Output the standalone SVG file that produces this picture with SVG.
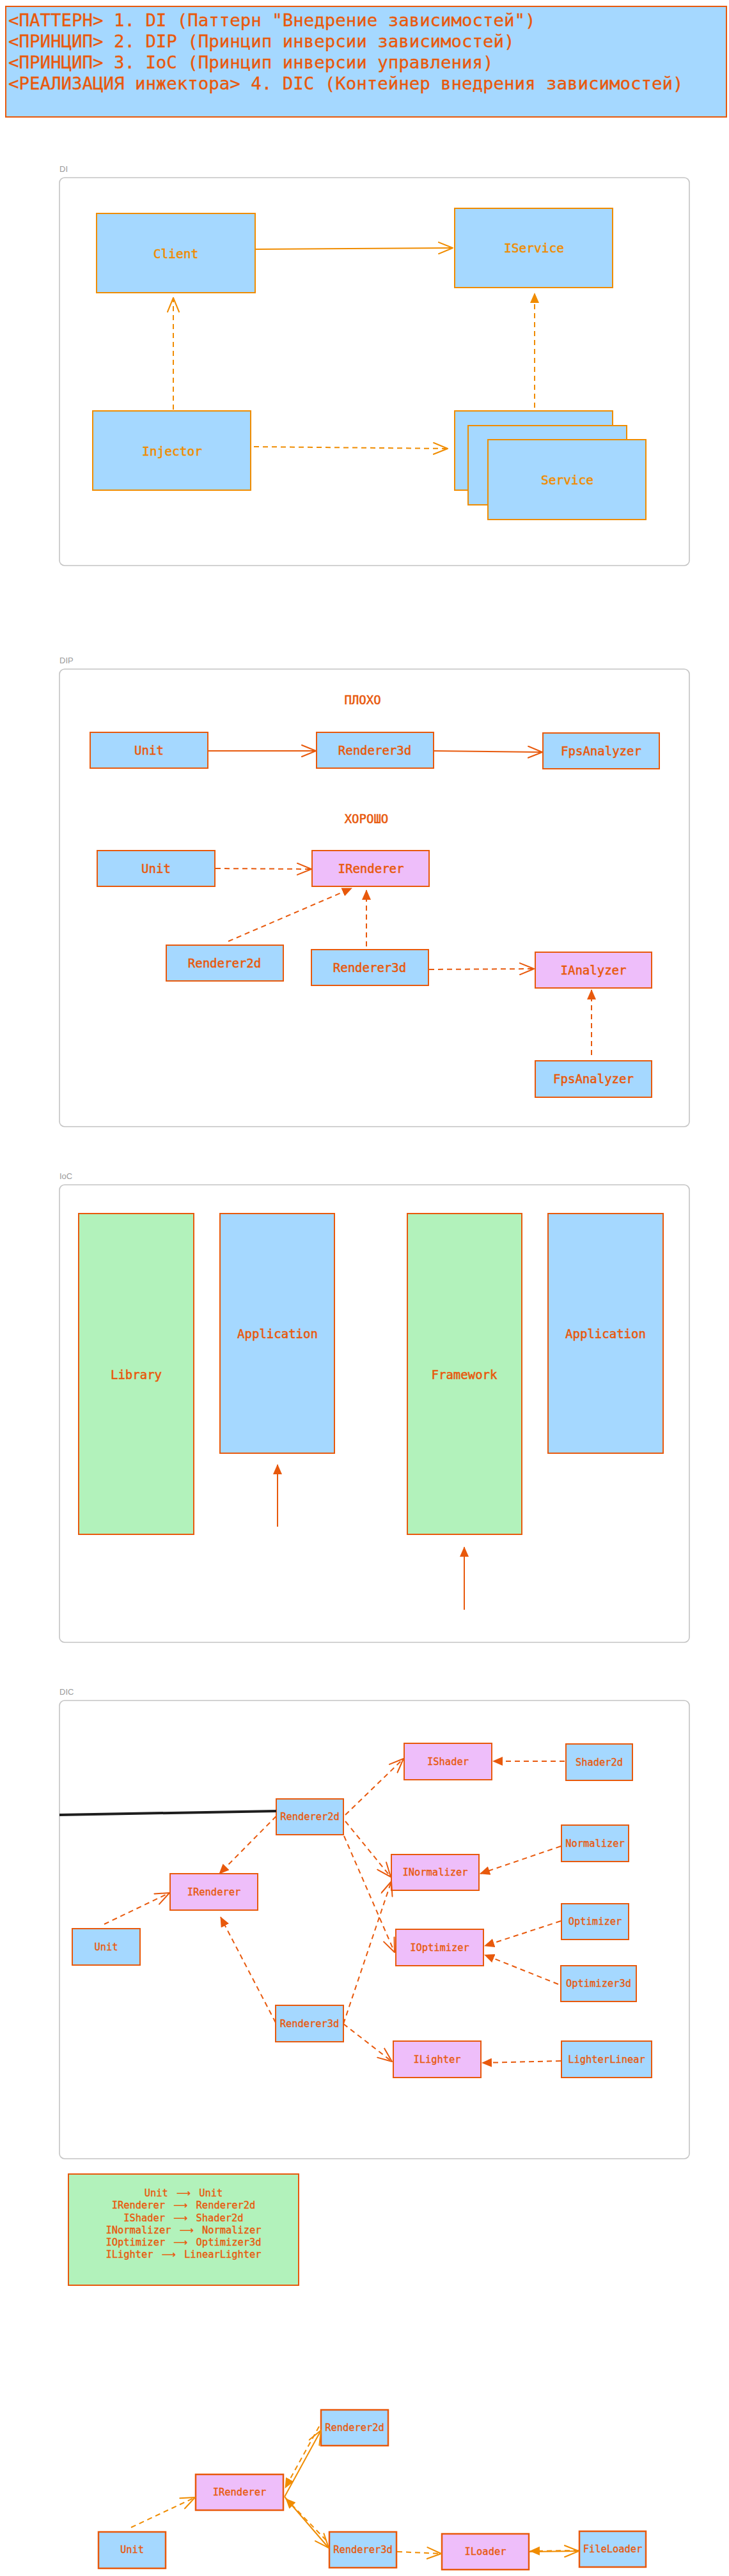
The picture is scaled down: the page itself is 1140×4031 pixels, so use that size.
<svg xmlns="http://www.w3.org/2000/svg" width="1140" height="4031" viewBox="0 0 1140 4031">
<style>
.t{font-family:"DejaVu Sans Mono","Liberation Mono",monospace;text-anchor:middle;dominant-baseline:central}
.to{fill:#f08c00;stroke:#f08c00;stroke-width:0.55;font-size:19.5px}
.tr{fill:#e8590c;stroke:#e8590c;stroke-width:0.55;font-size:19px}
.ts{fill:#e8590c;stroke:#e8590c;stroke-width:0.4;font-size:15.4px}
.box{stroke-width:2}
.bo{stroke:#f08c00}
.br{stroke:#e8590c}
.blue{fill:#a5d8ff}
.pink{fill:#eebefa}
.green{fill:#b2f2bb}
.frame{fill:none;stroke:#c4c4c4;stroke-width:1.6}
.flbl{font-family:"Liberation Sans","DejaVu Sans",sans-serif;font-size:13px;fill:#9a9a9a}
.c{fill:none;stroke-width:2}
.co{stroke:#f08c00}
.cr{stroke:#e8590c}
.d{stroke-dasharray:8 6}
.hdr{font-family:"DejaVu Sans Mono","Liberation Mono",monospace;font-size:27.4px;fill:#e8590c;stroke:#e8590c;stroke-width:0.35}
.lg{font-family:"DejaVu Sans Mono",monospace;font-size:15.4px;fill:#e8590c;stroke:#e8590c;stroke-width:0.4}
.ar{font-family:"DejaVu Sans",sans-serif;text-anchor:middle;stroke-width:0.3}
</style>
<defs>
<marker id="openO" viewBox="0 0 24 20" refX="23" refY="10" markerWidth="24" markerHeight="20" markerUnits="userSpaceOnUse" orient="auto"><path d="M1,1 L23,10 L1,19" fill="none" stroke="#f08c00" stroke-width="2" stroke-linecap="round" stroke-linejoin="round"/></marker>
<marker id="fillO" viewBox="0 0 16 14" refX="15" refY="7" markerWidth="16" markerHeight="14" markerUnits="userSpaceOnUse" orient="auto"><path d="M0,0 L16,7 L0,14 z" fill="#f08c00"/></marker>
<marker id="openR" viewBox="0 0 24 20" refX="23" refY="10" markerWidth="24" markerHeight="20" markerUnits="userSpaceOnUse" orient="auto"><path d="M1,1 L23,10 L1,19" fill="none" stroke="#e8590c" stroke-width="2" stroke-linecap="round" stroke-linejoin="round"/></marker>
<marker id="fillR" viewBox="0 0 16 14" refX="15" refY="7" markerWidth="16" markerHeight="14" markerUnits="userSpaceOnUse" orient="auto"><path d="M0,0 L16,7 L0,14 z" fill="#e8590c"/></marker>
</defs>
<rect width="1140" height="4031" fill="#ffffff"/>

<g id="header">
<rect x="9" y="10" width="1127" height="173" class="blue" stroke="#e8590c" stroke-width="2"/>
<text class="hdr" x="13" y="41">&lt;ПАТТЕРН&gt; 1. DI (Паттерн "Внедрение зависимостей")</text>
<text class="hdr" x="13" y="74">&lt;ПРИНЦИП&gt; 2. DIP (Принцип инверсии зависимостей)</text>
<text class="hdr" x="13" y="107">&lt;ПРИНЦИП&gt; 3. IoC (Принцип инверсии управления)</text>
<text class="hdr" x="13" y="140">&lt;РЕАЛИЗАЦИЯ инжектора&gt; 4. DIC (Контейнер внедрения зависимостей)</text>
</g>

<!-- DI -->
<g id="frame-di"><text class="flbl" x="93" y="269">DI</text><rect class="frame" x="93" y="278" width="985" height="607" rx="8"/></g>
<g id="di-client"><rect class="box bo blue" x="151" y="334" width="248" height="124"/><text class="t to" x="275" y="397">Client</text></g>
<g id="di-iservice"><rect class="box bo blue" x="711" y="326" width="247" height="124"/><text class="t to" x="835" y="388">IService</text></g>
<g id="di-injector"><rect class="box bo blue" x="145" y="643" width="247" height="124"/><text class="t to" x="269" y="706">Injector</text></g>
<g id="di-service">
<rect class="box bo blue" x="711" y="643" width="247" height="124"/>
<rect class="box bo blue" x="732" y="666" width="248" height="124"/>
<rect class="box bo blue" x="763" y="688" width="247" height="125"/>
<text class="t to" x="887" y="751">Service</text></g>

<!-- DIP -->
<g id="frame-dip"><text class="flbl" x="93" y="1038">DIP</text><rect class="frame" x="93" y="1047" width="985" height="716" rx="8"/></g>
<g id="dip-bad-label"><text class="t tr" x="567" y="1095">ПЛОХО</text></g>
<g id="dip-good-label"><text class="t tr" x="573" y="1281">ХОРОШО</text></g>
<g id="dip-unit1"><rect class="box br blue" x="141" y="1146" width="184" height="56"/><text class="t tr" x="233" y="1174">Unit</text></g>
<g id="dip-renderer3d1"><rect class="box br blue" x="495" y="1146" width="183" height="56"/><text class="t tr" x="586" y="1174">Renderer3d</text></g>
<g id="dip-fps1"><rect class="box br blue" x="849" y="1147" width="182" height="56"/><text class="t tr" x="940" y="1175">FpsAnalyzer</text></g>
<g id="dip-unit2"><rect class="box br blue" x="152" y="1331" width="184" height="56"/><text class="t tr" x="244" y="1359">Unit</text></g>
<g id="dip-irenderer"><rect class="box br pink" x="488" y="1331" width="183" height="56"/><text class="t tr" x="580" y="1359">IRenderer</text></g>
<g id="dip-renderer2d"><rect class="box br blue" x="260" y="1479" width="183" height="56"/><text class="t tr" x="351" y="1507">Renderer2d</text></g>
<g id="dip-renderer3d2"><rect class="box br blue" x="487" y="1486" width="183" height="56"/><text class="t tr" x="578" y="1514">Renderer3d</text></g>
<g id="dip-ianalyzer"><rect class="box br pink" x="837" y="1490" width="182" height="56"/><text class="t tr" x="928" y="1518">IAnalyzer</text></g>
<g id="dip-fps2"><rect class="box br blue" x="837" y="1660" width="182" height="57"/><text class="t tr" x="928" y="1688">FpsAnalyzer</text></g>

<!-- IoC -->
<g id="frame-ioc"><text class="flbl" x="93" y="1845">IoC</text><rect class="frame" x="93" y="1854" width="985" height="716" rx="8"/></g>
<g id="ioc-library"><rect class="box br green" x="123" y="1899" width="180" height="502"/><text class="t tr" x="213" y="2151">Library</text></g>
<g id="ioc-app1"><rect class="box br blue" x="344" y="1899" width="179" height="375"/><text class="t tr" x="434" y="2087">Application</text></g>
<g id="ioc-framework"><rect class="box br green" x="637" y="1899" width="179" height="502"/><text class="t tr" x="726" y="2151">Framework</text></g>
<g id="ioc-app2"><rect class="box br blue" x="857" y="1899" width="180" height="375"/><text class="t tr" x="947" y="2087">Application</text></g>

<!-- DIC -->
<g id="frame-dic"><text class="flbl" x="93" y="2652">DIC</text><rect class="frame" x="93" y="2661" width="985" height="717" rx="8"/></g>
<g id="dic-renderer2d"><rect class="box br blue" x="432" y="2815" width="105" height="56"/><text class="t ts" x="484.5" y="2843">Renderer2d</text></g>
<g id="dic-ishader"><rect class="box br pink" x="632" y="2728" width="137" height="57"/><text class="t ts" x="700.5" y="2757">IShader</text></g>
<g id="dic-shader2d"><rect class="box br blue" x="885" y="2729" width="104" height="57"/><text class="t ts" x="937" y="2758">Shader2d</text></g>
<g id="dic-normalizer"><rect class="box br blue" x="878" y="2856" width="105" height="57"/><text class="t ts" x="930.5" y="2885">Normalizer</text></g>
<g id="dic-inormalizer"><rect class="box br pink" x="612" y="2902" width="137" height="56"/><text class="t ts" x="680.5" y="2930">INormalizer</text></g>
<g id="dic-irenderer"><rect class="box br pink" x="266" y="2932" width="137" height="57"/><text class="t ts" x="334.5" y="2961">IRenderer</text></g>
<g id="dic-unit"><rect class="box br blue" x="113" y="3018" width="106" height="57"/><text class="t ts" x="166" y="3047">Unit</text></g>
<g id="dic-optimizer"><rect class="box br blue" x="878" y="2979" width="105" height="56"/><text class="t ts" x="930.5" y="3007">Optimizer</text></g>
<g id="dic-ioptimizer"><rect class="box br pink" x="619" y="3019" width="137" height="57"/><text class="t ts" x="687.5" y="3048">IOptimizer</text></g>
<g id="dic-optimizer3d"><rect class="box br blue" x="877" y="3076" width="118" height="56"/><text class="t ts" x="936" y="3104">Optimizer3d</text></g>
<g id="dic-renderer3d"><rect class="box br blue" x="431" y="3138" width="106" height="57"/><text class="t ts" x="484" y="3167">Renderer3d</text></g>
<g id="dic-ilighter"><rect class="box br pink" x="615" y="3194" width="137" height="57"/><text class="t ts" x="683.5" y="3223">ILighter</text></g>
<g id="dic-lighterlinear"><rect class="box br blue" x="878" y="3194" width="141" height="57"/><text class="t ts" x="948.5" y="3223">LighterLinear</text></g>

<g id="legend">
<rect x="107" y="3402" width="360" height="174" class="green" stroke="#e8590c" stroke-width="2"/>
<text class="lg" y="3437"><tspan x="225.7">Unit</tspan><tspan class="ar" x="287">⟶</tspan><tspan x="311.2">Unit</tspan></text>
<text class="lg" y="3456"><tspan x="174.7">IRenderer</tspan><tspan class="ar" x="282.4">⟶</tspan><tspan x="306.6">Renderer2d</tspan></text>
<text class="lg" y="3476"><tspan x="193.2">IShader</tspan><tspan class="ar" x="282.3">⟶</tspan><tspan x="306.5">Shader2d</tspan></text>
<text class="lg" y="3495"><tspan x="165.5">INormalizer</tspan><tspan class="ar" x="291.7">⟶</tspan><tspan x="315.9">Normalizer</tspan></text>
<text class="lg" y="3514"><tspan x="165.5">IOptimizer</tspan><tspan class="ar" x="282.4">⟶</tspan><tspan x="306.6">Optimizer3d</tspan></text>
<text class="lg" y="3533"><tspan x="165.5">ILighter</tspan><tspan class="ar" x="263.9">⟶</tspan><tspan x="288.1">LinearLighter</tspan></text>
</g>

<!-- bottom -->
<g id="b-renderer2d"><rect class="br blue" stroke-width="2.5" x="502" y="3771" width="105" height="56"/><text class="t ts" x="554.5" y="3799">Renderer2d</text></g>
<g id="b-irenderer"><rect class="br pink" stroke-width="2.5" x="306" y="3872" width="137" height="56"/><text class="t ts" x="374.5" y="3900">IRenderer</text></g>
<g id="b-unit"><rect class="br blue" stroke-width="2.5" x="154" y="3962" width="105" height="57"/><text class="t ts" x="206.5" y="3990">Unit</text></g>
<g id="b-renderer3d"><rect class="br blue" stroke-width="2.5" x="515" y="3962" width="105" height="56"/><text class="t ts" x="567.5" y="3990">Renderer3d</text></g>
<g id="b-iloader"><rect class="br pink" stroke-width="2.5" x="691" y="3965" width="136" height="56"/><text class="t ts" x="759" y="3993">ILoader</text></g>
<g id="b-fileloader"><rect class="br blue" stroke-width="2.5" x="906" y="3961" width="104" height="56"/><text class="t ts" x="958" y="3989">FileLoader</text></g>

<g id="connectors">
<!-- DI -->
<path class="c co" d="M400,390 L708,388" marker-end="url(#openO)"/>
<path class="c co d" d="M271,641 L271,466" marker-end="url(#openO)"/>
<path class="c co d" d="M836,638 L836,459" marker-end="url(#fillO)"/>
<path class="c co d" d="M397,699 L700,702" stroke-width="2.5" marker-end="url(#openO)"/>
<!-- DIP -->
<path class="c cr" d="M325,1175 L494,1175" marker-end="url(#openR)"/>
<path class="c cr" d="M678,1175 L848,1177" marker-end="url(#openR)"/>
<path class="c cr d" d="M337,1359 L487,1360" stroke-width="2.5" marker-end="url(#openR)"/>
<path class="c cr d" d="M357,1473 L550,1390" stroke-width="2.5" marker-end="url(#fillR)"/>
<path class="c cr d" d="M573,1481 L573,1393" marker-end="url(#fillR)"/>
<path class="c cr d" d="M671,1517 L835,1516" stroke-width="2.5" marker-end="url(#openR)"/>
<path class="c cr d" d="M925,1651 L925,1549" marker-end="url(#fillR)"/>
<!-- IoC -->
<path class="c cr" d="M434,2389 L434,2292" marker-end="url(#fillR)"/>
<path class="c cr" d="M726,2519 L726,2421" marker-end="url(#fillR)"/>
<!-- DIC -->
<path d="M93,2840 L432,2834" fill="none" stroke="#1e1e1e" stroke-width="4"/>
<path class="c cr d" d="M540,2840 L631,2752" marker-end="url(#openR)"/>
<path class="c cr d" d="M540,2850 L611,2937" marker-end="url(#openR)"/>
<path class="c cr d" d="M538,2873 L617,3055" marker-end="url(#openR)"/>
<path class="c cr d" d="M432,2842 L343,2932" marker-end="url(#fillR)"/>
<path class="c cr d" d="M163,3011 L265,2962" marker-end="url(#openR)"/>
<path class="c cr d" d="M431,3165 L345,3000" marker-end="url(#fillR)"/>
<path class="c cr d" d="M537,3167 L612,2944" marker-end="url(#openR)"/>
<path class="c cr d" d="M537,3167 L613,3226" marker-end="url(#openR)"/>
<path class="c cr d" d="M883,2756 L771,2756" stroke-width="2.5" marker-end="url(#fillR)"/>
<path class="c cr d" d="M877,2889 L751,2932" stroke-width="2.5" marker-end="url(#fillR)"/>
<path class="c cr d" d="M877,3006 L758,3045" stroke-width="2.5" marker-end="url(#fillR)"/>
<path class="c cr d" d="M873,3105 L758,3059" stroke-width="2.5" marker-end="url(#fillR)"/>
<path class="c cr d" d="M877,3225 L754,3228" stroke-width="2.5" marker-end="url(#fillR)"/>
<!-- bottom -->
<path class="c co d" d="M205,3955 L305,3908" stroke-width="2.5" marker-end="url(#openO)"/>
<path class="c co" d="M445,3907 L502,3803" stroke-width="2.5" marker-end="url(#openO)"/>
<path class="c co d" d="M499,3797 L446,3893" stroke-width="2.5" marker-end="url(#fillO)"/>
<path class="c co" d="M445,3907 L514,3987" stroke-width="2.5" marker-end="url(#openO)"/>
<path class="c co d" d="M510,3975 L447,3910" stroke-width="2.5" marker-end="url(#fillO)"/>
<path class="c co d" d="M621,3993 L690,3996" stroke-width="2.5" marker-end="url(#openO)"/>
<path class="c co" d="M828,3993 L905,3992" stroke-width="2.5" marker-end="url(#openO)"/>
<path class="c co d" d="M905,3991 L829,3992" stroke-width="2.5" marker-end="url(#fillO)"/>
</g>
</svg>
